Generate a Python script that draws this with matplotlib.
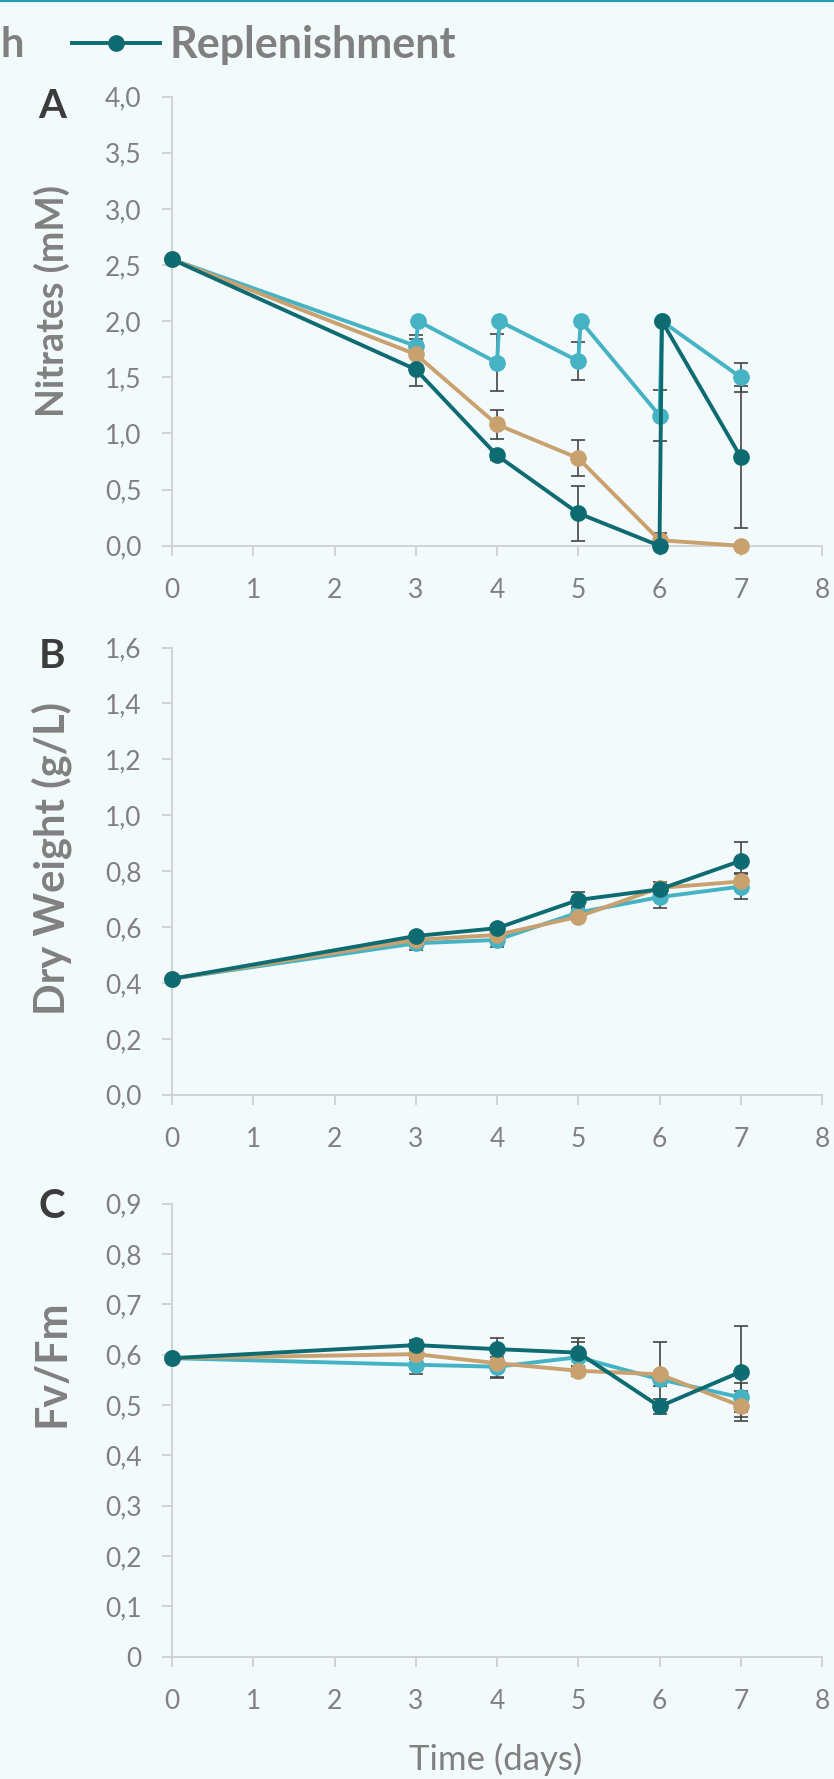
import numpy as np
import matplotlib
matplotlib.use('Agg')
import matplotlib.pyplot as plt
from matplotlib.lines import Line2D

plt.rcParams['font.family'] = ['Lato', 'DejaVu Sans']

BG = '#f3fafc'
DARK = '#0e6b72'
CYAN = '#45b3c3'
TAN = '#c9a16f'
ERR = '#444444'
AXIS = '#d2d2d2'
GREY = '#808080'

days = [0, 3, 4, 5, 6, 7]
xticks = [0, 1, 2, 3, 4, 5, 6, 7, 8]

# A - nitrates (mM); replenished cultures go back up to 2.0 mM after sampling
nit_cyan_x = [0, 3, 3.03, 4, 4.03, 5, 5.03, 6, 6.03, 7]
nit_cyan = [2.55, 1.78, 2.0, 1.63, 2.0, 1.645, 2.0, 1.16, 2.0, 1.50]
nit_cyan_err = [0, 0.094, 0, 0.255, 0, 0.168, 0, 0.225, 0, 0.13]
nit_tan = [2.55, 1.705, 1.08, 0.78, 0.05, 0.0]
nit_tan_err = [0, 0.134, 0.132, 0.16, 0.06, 0]
nit_dark_x = [0, 3, 4, 5, 6, 6.03, 7]
nit_dark = [2.55, 1.57, 0.805, 0.29, 0.0, 2.0, 0.79]
nit_dark_err = [0, 0.15, 0.04, 0.245, 0, 0, 0.63]
nit_ticks = [0, 0.5, 1.0, 1.5, 2.0, 2.5, 3.0, 3.5, 4.0]
nit_labels = ['0,0', '0,5', '1,0', '1,5', '2,0', '2,5', '3,0', '3,5', '4,0']

# B - dry weight (g/L)
dw_cyan = [0.415, 0.542, 0.554, 0.652, 0.707, 0.745]
dw_cyan_err = [0, 0.024, 0.026, 0.02, 0.04, 0.045]
dw_tan = [0.415, 0.554, 0.572, 0.637, 0.74, 0.763]
dw_tan_err = [0, 0.01, 0.01, 0.01, 0.02, 0.03]
dw_dark = [0.415, 0.568, 0.596, 0.697, 0.735, 0.837]
dw_dark_err = [0, 0.01, 0.01, 0.03, 0.01, 0.068]
dw_ticks = [0, 0.2, 0.4, 0.6, 0.8, 1.0, 1.2, 1.4, 1.6]
dw_labels = ['0,0', '0,2', '0,4', '0,6', '0,8', '1,0', '1,2', '1,4', '1,6']

# C - Fv/Fm
fv_cyan = [0.593, 0.580, 0.576, 0.595, 0.551, 0.515]
fv_cyan_err = [0, 0.018, 0.02, 0.03, 0.013, 0.028]
fv_tan = [0.593, 0.601, 0.583, 0.568, 0.561, 0.498]
fv_tan_err = [0, 0.01, 0.03, 0.01, 0.064, 0.029]
fv_dark = [0.593, 0.619, 0.611, 0.604, 0.497, 0.566]
fv_dark_err = [0, 0.01, 0.022, 0.029, 0.014, 0.09]
fv_ticks = [0, 0.1, 0.2, 0.3, 0.4, 0.5, 0.6, 0.7, 0.8, 0.9]
fv_labels = ['0', '0,1', '0,2', '0,3', '0,4', '0,5', '0,6', '0,7', '0,8', '0,9']


def draw_panel(ax, series, yticks, ylabels):
    ax.set_facecolor(BG)
    for x, y, err, color in series:
        x, y, err = np.asarray(x), np.asarray(y), np.asarray(err)
        m = err > 0
        ax.errorbar(x[m], y[m], yerr=err[m], fmt='none', ecolor=ERR,
                    elinewidth=1.2, capsize=4.8, capthick=1.2, zorder=2,
                    clip_on=False)
    for x, y, err, color in series:
        ax.plot(x, y, '-o', color=color, lw=2.8, ms=11, zorder=3,
                clip_on=False)
    ax.set_xlim(0, 8)
    ax.set_ylim(yticks[0], yticks[-1])
    ax.set_xticks(xticks)
    ax.set_xticklabels([str(t) for t in xticks])
    ax.set_yticks(yticks)
    ax.set_yticklabels(ylabels)
    for s in ['top', 'right']:
        ax.spines[s].set_visible(False)
    for s in ['left', 'bottom']:
        ax.spines[s].set_color(AXIS)
        ax.spines[s].set_linewidth(1.4)
    ax.tick_params(direction='out', length=7, width=1.4, color=AXIS,
                   labelcolor=GREY, labelsize=19)
    ax.tick_params(axis='y', pad=15)
    ax.tick_params(axis='x', pad=16)


def main():
    W, H = 834, 1779
    fig = plt.figure(figsize=(W / 100, H / 100), dpi=100, facecolor=BG)

    left, right = 172 / W, 822 / W
    axA = fig.add_axes([left, 1 - 545.8 / H, right - left, (545.8 - 96.5) / H])
    axB = fig.add_axes([left, 1 - 1094.8 / H, right - left, (1094.8 - 647.5) / H])
    axC = fig.add_axes([left, 1 - 1656.6 / H, right - left, (1656.6 - 1203.7) / H])

    draw_panel(axA, [(nit_cyan_x, nit_cyan, nit_cyan_err, CYAN),
                     (days, nit_tan, nit_tan_err, TAN),
                     (nit_dark_x, nit_dark, nit_dark_err, DARK)],
               nit_ticks, nit_labels)
    draw_panel(axB, [(days, dw_cyan, dw_cyan_err, CYAN),
                     (days, dw_tan, dw_tan_err, TAN),
                     (days, dw_dark, dw_dark_err, DARK)],
               dw_ticks, dw_labels)
    draw_panel(axC, [(days, fv_cyan, fv_cyan_err, CYAN),
                     (days, fv_tan, fv_tan_err, TAN),
                     (days, fv_dark, fv_dark_err, DARK)],
               fv_ticks, fv_labels)

    # panel letters and y labels
    lab_x = 52 / W
    for letter, ytop in [('A', 107), ('B', 656), ('C', 1206)]:
        fig.text(lab_x, 1 - ytop / H, letter, ha='center', va='center',
                 fontsize=29, fontweight='bold', color='#3c3c3c')
    for text, yc, size in [('Nitrates (mM)', 301, 27),
                           ('Dry Weight (g/L)', 859, 30),
                           ('Fv/Fm', 1363, 31)]:
        fig.text(lab_x, 1 - yc / H, text, rotation=90, ha='center', va='center',
                 fontsize=size, fontweight='bold', color=GREY)
    fig.text(496 / W, 1 - 1759 / H, 'Time (days)', ha='center', va='center',
             fontsize=25, color=GREY)

    # legend strip (cropped at the left edge in the source)
    fig.text(0.5 / W, 1 - 45 / H, 'h', ha='left', va='center', fontsize=30,
             fontweight='bold', color=GREY)
    handle = Line2D([], [], color=DARK, lw=2.8, marker='o', ms=11)
    fig.legend([handle], ['Replenishment'], loc='center left',
               bbox_to_anchor=(72 / W, 1 - 45 / H), frameon=False,
               borderpad=0, borderaxespad=0, handlelength=2.05,
               handletextpad=0.22, labelcolor=GREY,
               prop={'weight': 'bold', 'size': 31})
    fig.add_artist(Line2D([0, 1], [1, 1], transform=fig.transFigure,
                          color='#1f9eae', lw=3))

    fig.savefig('out.png', dpi=100, facecolor=BG)
    plt.close(fig)


if __name__ == "__main__":
    main()
